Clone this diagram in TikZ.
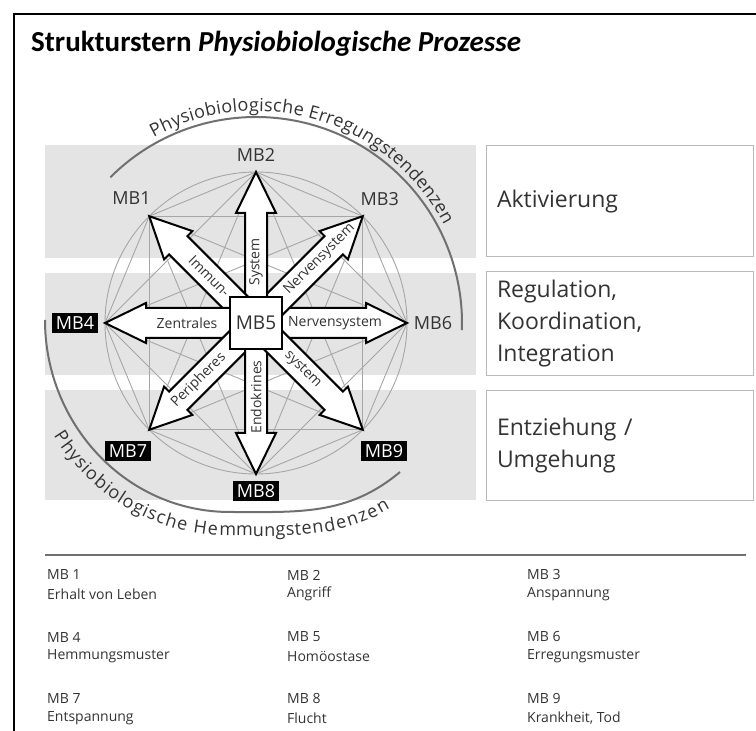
\documentclass[tikz,border=0pt]{standalone}
\usepackage{fontspec}
\setmainfont{Open Sans}
\newfontfamily\titlefont{Carlito}
\usetikzlibrary{decorations.text}
\definecolor{band}{HTML}{E4E4E4}
\definecolor{chord}{HTML}{A6A6A6}
\definecolor{ink}{HTML}{333333}
\definecolor{arcgrey}{HTML}{707070}
\tikzstyle{mblabel}=[text=ink,font=\fontsize{18}{18}\selectfont,inner sep=1pt]
\tikzstyle{mbbox}=[fill=black,text=white,font=\fontsize{18}{18}\selectfont,inner sep=1pt,minimum width=46pt,minimum height=20pt]
\tikzstyle{arrowtext}=[text=ink,font=\fontsize{14}{14}\selectfont,inner sep=0pt]
\tikzstyle{chordline}=[draw=chord,line width=0.9pt]
\tikzstyle{bigarrow}=[draw=black,fill=white,line width=2pt,line join=miter]
\tikzstyle{sidebox}=[draw=gray!55,fill=white,line width=1pt,minimum width=267pt,text width=245pt,align=left,text=ink,font=\fontsize{23}{32}\selectfont]
\tikzstyle{legend}=[text=ink,font=\fontsize{14}{14}\selectfont,anchor=west,inner sep=0pt]

\begin{document}
\begin{tikzpicture}[x=1pt,y=1pt]
    \useasboundingbox (0,0) rectangle (756,731);
    % Frame and title
    \draw[line width=2.2pt] (14,-5) -- (14,717) -- (760,717);
    \node[anchor=base west,inner sep=0pt,font=\titlefont\bfseries\fontsize{29}{29}\selectfont] (title) at (31,679) {Strukturstern \textit{Physiobiologische Prozesse}};

    % Grey bands with their boxes on the right
    \foreach \top/\bot in {586/473, 458/356, 341/231}
        \fill[band] (45,\bot) rectangle (476,\top);
    \node[sidebox,minimum height=111pt] (akt) at (619.5,529.5) {Aktivierung};
    \node[sidebox,minimum height=104pt] (reg) at (619.5,407) {Regulation,\\Koordination,\\Integration};
    \node[sidebox,minimum height=110pt] (ent) at (619.5,285) {Entziehung /\\Umgehung};

    \begin{scope}[shift={(256,408)}]
    % First the circle and the chords between the eight tips
    \foreach \i in {0,...,7}
        \coordinate (t\i) at (\i*45:151);
    \draw[chordline] (0,0) circle (151);
    \foreach \i in {0,...,6}{
        \pgfmathtruncatemacro\k{\i+1}
        \foreach \j in {\k,...,7}
            \path[chordline] (t\i) -- (t\j);
    }

    % Then the block arrows from the centre
    \foreach \ang/\w in {0/30, 45/26, 90/22, 135/26, 180/30, 225/26, 270/22, 315/26}{
        \begin{scope}[rotate=\ang]
            \draw[bigarrow] (0,-\w/2) -- (110,-\w/2) -- (110,-20) -- (151,0) -- (110,20) -- (110,\w/2) -- (0,\w/2) -- cycle;
        \end{scope}
    }
    \node[draw,fill=white,line width=2pt,minimum size=52pt,inner sep=0pt,text=ink,font=\fontsize{19}{19}\selectfont] (MB5) at (0,0) {MB5};

    % Texts on the arrows
    \foreach \name/\ang/\d/\rot/\txt in {sys/90/61/90/System, endo/270/74/90/Endokrines,
        zen/180/69/0/Zentrales, nerv/0/79/0/Nervensystem, imm/135/66/-45/Immun-,
        nervb/45/90/45/Nervensystem, per/225/81/45/Peripheres, sysb/315/66/-45/system}
        \node[arrowtext,rotate=\rot] (\name) at (\ang:\d) {\txt};

    % Labels at the tips
    \foreach \name/\ang/\r/\sty in {MB1/135/176/mblabel, MB2/90/168/mblabel, MB3/45/175/mblabel,
        MB6/0/177/mblabel, MB4/180/181/mbbox, MB7/225/181/mbbox, MB8/270/168/mbbox, MB9/315/181/mbbox}
        \node[\sty] (\name) at (\ang:\r) {\name};

    % Arcs with their texts
    \draw[arcgrey,line width=2pt] (135:206) arc (135:-2:206);
    \path[decorate,decoration={text along path,raise=6pt,text align={left indent=58pt},
        text={|\color{ink}\fontsize{18}{18}\selectfont|Physiobiologische Erregungstendenzen}}]
        (135:206) arc (135:-2:206);
    \end{scope}

    \draw[arcgrey,line width=2pt] (45,411) to[out=-90,in=180] (230,219) to[out=0,in=-140] (400,259);
    \path[decorate,decoration={text along path,raise=-24pt,text align={left indent=108pt},
        text={|\color{ink}\fontsize{18}{18}\selectfont|Physiobiologische Hemmungstendenzen}}]
        (45,411) to[out=-90,in=180] (230,219) to[out=0,in=-140] (400,259);

    % Legend
    \draw[arcgrey,line width=2pt] (45,176) -- (746,176);
    \foreach \n/\desc/\x/\y in {1/Erhalt von Leben/47/156, 2/Angriff/287/156, 3/Anspannung/527/156,
        4/Hemmungsmuster/47/94, 5/Homöostase/287/94, 6/Erregungsmuster/527/94,
        7/Entspannung/47/32, 8/Flucht/287/32, 9/{Krankheit, Tod}/527/32}{
        \node[legend] (lmb\n) at (\x,\y) {MB \n};
        \node[legend] (ldesc\n) at (\x,\y-19) {\desc};
    }
\end{tikzpicture}
\end{document}
